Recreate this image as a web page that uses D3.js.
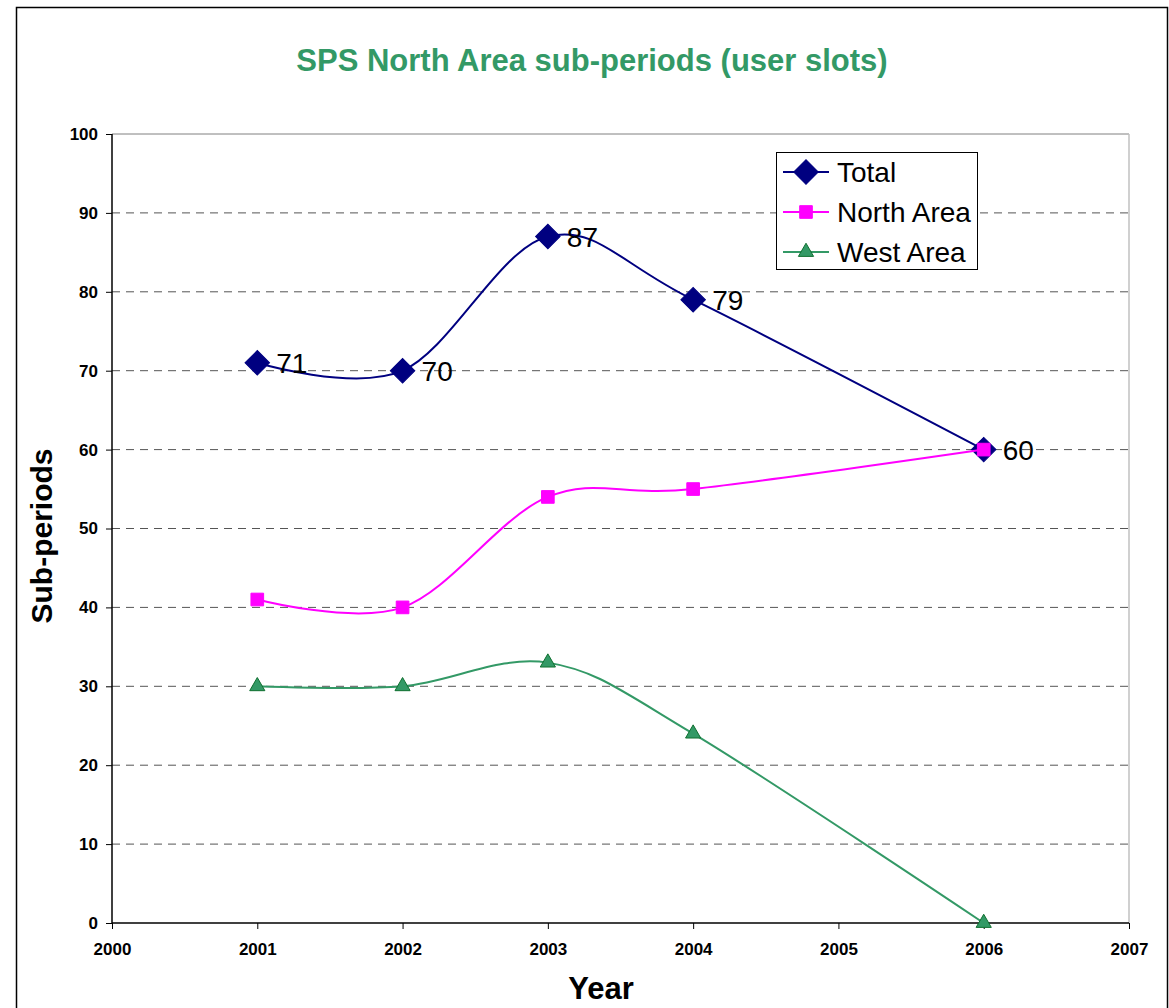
<!DOCTYPE html>
<html>
<head>
<meta charset="utf-8">
<script src="https://cdn.jsdelivr.net/npm/d3@7"></script>
<style>
  body { margin: 0; background: #fff; }
  text { font-family: "Liberation Sans", Arial, sans-serif; }
</style>
</head>
<body>
<div id="chart"></div>
<script>
var years = [2001, 2002, 2003, 2004, 2006];
var total = [71, 70, 87, 79, 60];
var northArea = [41, 40, 54, 55, 60];
var westArea = [30, 30, 33, 24, 0];
var xTicks = [2000, 2001, 2002, 2003, 2004, 2005, 2006, 2007];
var yTicks = [0, 10, 20, 30, 40, 50, 60, 70, 80, 90, 100];

var w = 1169, h = 1008;
var padL = 112, padR = 1129, padT = 134, padB = 923;

var svg = d3.select("#chart").append("svg")
	.attr("width", w)
	.attr("height", h);

// outer frame
svg.append("rect")
	.attr("x", 16.5).attr("y", 7.5)
	.attr("width", 1151).attr("height", 1010)
	.attr("fill", "#fff")
	.attr("stroke", "#000")
	.attr("stroke-width", 1.5);

var xScale = d3.scaleLinear().domain([2000, 2007]).range([padL, padR]);
var yScale = d3.scaleLinear().domain([0, 100]).range([padB, padT]);

// gridlines
svg.append("g").selectAll("line")
	.data(yTicks.filter(function(d) { return d > 0 && d < 100; }))
	.enter().append("line")
	.attr("x1", padL).attr("x2", padR)
	.attr("y1", function(d) { return yScale(d); })
	.attr("y2", function(d) { return yScale(d); })
	.attr("stroke", "#555")
	.attr("stroke-width", 1)
	.attr("stroke-dasharray", "8,6");

// plot area border (top + right)
svg.append("line")
	.attr("x1", padL).attr("x2", padR)
	.attr("y1", padT).attr("y2", padT)
	.attr("stroke", "#808080");
svg.append("line")
	.attr("x1", padR).attr("x2", padR)
	.attr("y1", padT).attr("y2", padB)
	.attr("stroke", "#c0c0c0")
	.attr("stroke-width", 1.5);

var xAxis = d3.axisBottom(xScale)
	.tickValues(xTicks)
	.tickFormat(d3.format("d"))
	.tickSize(6)
	.tickPadding(14);
var yAxis = d3.axisLeft(yScale)
	.tickValues(yTicks)
	.tickSize(6)
	.tickPadding(8);

var gx = svg.append("g")
	.attr("transform", "translate(0," + padB + ")")
	.call(xAxis);
var gy = svg.append("g")
	.attr("transform", "translate(" + padL + ",0)")
	.call(yAxis);

[gx, gy].forEach(function(g) {
	g.select(".domain").attr("stroke", "#000").attr("stroke-width", 1.5);
	g.selectAll(".tick line").attr("stroke", "#000");
	g.selectAll("text")
		.attr("fill", "#000")
		.style("font-family", "'Liberation Sans', Arial, sans-serif")
		.style("font-size", "17px")
		.style("font-weight", "bold");
});
gx.select(".domain").attr("d", "M" + padL + ",0H" + padR);
gy.select(".domain").attr("d", "M0," + padB + "V" + padT);

// titles
svg.append("text")
	.attr("x", 592).attr("y", 71)
	.attr("text-anchor", "middle")
	.attr("fill", "#339966")
	.style("font-size", "31px")
	.style("font-weight", "bold")
	.text("SPS North Area sub-periods (user slots)");

svg.append("text")
	.attr("x", 601).attr("y", 999)
	.attr("text-anchor", "middle")
	.style("font-size", "31px")
	.style("font-weight", "bold")
	.text("Year");

svg.append("text")
	.attr("transform", "translate(52,536) rotate(-90)")
	.attr("text-anchor", "middle")
	.style("font-size", "30px")
	.style("font-weight", "bold")
	.text("Sub-periods");

var line = d3.line()
	.x(function(d) { return xScale(d[0]); })
	.y(function(d) { return yScale(d[1]); })
	.curve(d3.curveCatmullRom.alpha(0));

function pts(vals) {
	return years.map(function(y, i) { return [y, vals[i]]; });
}

var series = [
	{ name: "Total", vals: total, color: "#000080", sym: d3.symbolSquare, rot: 45, size: 300, fill: "#000080", stroke: "#000080" },
	{ name: "North Area", vals: northArea, color: "#ff00ff", sym: d3.symbolSquare, rot: 0, size: 160, fill: "#ff00ff", stroke: "#ff00ff" },
	{ name: "West Area", vals: westArea, color: "#339966", sym: d3.symbolTriangle, rot: 0, size: 100, fill: "#339966", stroke: "#107030" }
];

series.forEach(function(s) {
	svg.append("path")
		.datum(pts(s.vals))
		.attr("fill", "none")
		.attr("stroke", s.color)
		.attr("stroke-width", 2)
		.attr("d", line);
	svg.append("g").selectAll("path")
		.data(pts(s.vals))
		.enter().append("path")
		.attr("transform", function(d) { return "translate(" + xScale(d[0]) + "," + yScale(d[1]) + ") rotate(" + s.rot + ")"; })
		.attr("d", d3.symbol().type(s.sym).size(s.size))
		.attr("fill", s.fill)
		.attr("stroke", s.stroke)
		.attr("stroke-width", 1);
});

// data labels for Total
svg.append("g").selectAll("text")
	.data(pts(total))
	.enter().append("text")
	.attr("x", function(d) { return xScale(d[0]) + 19; })
	.attr("y", function(d) { return yScale(d[1]) + 10; })
	.style("font-size", "28px")
	.text(function(d) { return d[1]; });

// legend
var lg = svg.append("g");
lg.append("rect")
	.attr("x", 776.5).attr("y", 152.5)
	.attr("width", 201).attr("height", 117)
	.attr("fill", "#fff")
	.attr("stroke", "#000")
	.attr("stroke-width", 1);
series.forEach(function(s, i) {
	var cy = 172 + i * 40;
	lg.append("line")
		.attr("x1", 783).attr("x2", 829)
		.attr("y1", cy).attr("y2", cy)
		.attr("stroke", s.color)
		.attr("stroke-width", 2);
	lg.append("path")
		.attr("transform", "translate(806," + cy + ") rotate(" + s.rot + ")")
		.attr("d", d3.symbol().type(s.sym).size(s.size))
		.attr("fill", s.fill)
		.attr("stroke", s.stroke);
	lg.append("text")
		.attr("x", 837).attr("y", cy + 10)
		.style("font-size", "28px")
		.text(s.name);
});
</script>
</body>
</html>
